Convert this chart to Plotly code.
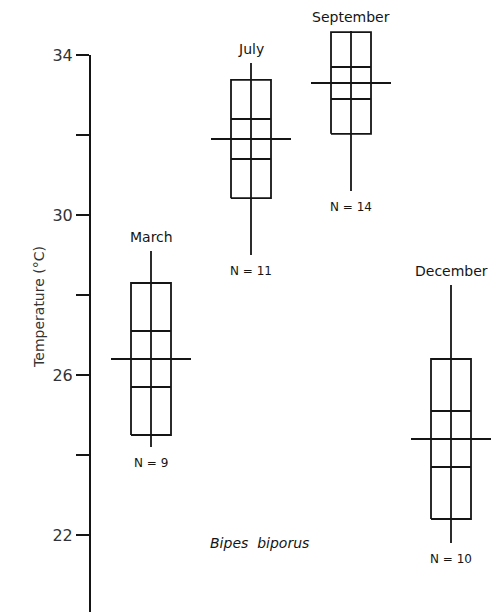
import plotly.graph_objects as go

# Monthly body temperature summaries for Bipes biporus
months = ["March", "July", "September", "December"]
sample_sizes = [9, 11, 14, 10]
means = [26.4, 31.9, 33.3, 24.4]
sd_half = [1.9, 1.48, 1.27, 2.0]      # outer box: mean +/- SD
se_half = [0.7, 0.5, 0.4, 0.7]       # inner band: mean +/- SE
t_min = [24.2, 29.0, 30.6, 21.8]
t_max = [29.1, 33.8, 34.6, 28.25]

y_ticks = [22, 24, 26, 28, 30, 32, 34]
y_ticklabels = ["22", "", "26", "", "30", "", "34"]

INK = "#151515"
FONT = "DejaVu Sans"
BOX_HW = 0.2
MEAN_HW = 0.4
LW = 1.8

fig = go.Figure()

for i, m in enumerate(months):
    xc = i + 1
    lo, hi = means[i] - sd_half[i], means[i] + sd_half[i]
    slo, shi = means[i] - se_half[i], means[i] + se_half[i]
    xs, ys = [], []
    # outer rectangle
    xs += [xc - BOX_HW, xc + BOX_HW, xc + BOX_HW, xc - BOX_HW, xc - BOX_HW, None]
    ys += [lo, lo, hi, hi, lo, None]
    # inner SE lines
    xs += [xc - BOX_HW, xc + BOX_HW, None, xc - BOX_HW, xc + BOX_HW, None]
    ys += [slo, slo, None, shi, shi, None]
    # range line
    xs += [xc, xc, None]
    ys += [t_min[i], t_max[i], None]
    # mean line
    xs += [xc - MEAN_HW, xc + MEAN_HW]
    ys += [means[i], means[i]]
    fig.add_trace(go.Scatter(x=xs, y=ys, mode="lines",
                             line=dict(color=INK, width=LW),
                             hoverinfo="skip", showlegend=False))

    fig.add_annotation(x=xc, y=t_max[i], text=m, showarrow=False,
                       yanchor="bottom", yshift=4,
                       font=dict(family=FONT, size=14, color=INK))
    fig.add_annotation(x=xc, y=t_min[i], text=f"N = {sample_sizes[i]}",
                       showarrow=False, yanchor="top", yshift=-7,
                       font=dict(family=FONT, size=12, color=INK))

fig.add_annotation(x=1.57, y=21.8, text="<i>Bipes  biporus</i>", showarrow=False,
                   xanchor="left", font=dict(family=FONT, size=14, color=INK))

fig.add_annotation(xref="paper", yref="y", x=-0.148, y=27.7,
                   text="Temperature (°C)", textangle=-90, showarrow=False,
                   font=dict(family=FONT, size=14, color="#333"))

# axis spine begins at the top tick
fig.add_shape(type="line", xref="paper", yref="y", x0=0, x1=0,
              y0=y_ticks[-1], y1=20.0, line=dict(color=INK, width=2))

fig.update_xaxes(range=[0.39, 4.52], visible=False)
fig.update_yaxes(range=[20.075, 35.375], tickvals=y_ticks, ticktext=y_ticklabels,
                 ticks="outside", ticklen=13, tickwidth=2, tickcolor=INK,
                 showline=False, showgrid=False, zeroline=False,
                 tickfont=dict(family=FONT, size=16, color="#333"))

fig.update_layout(width=503, height=612, margin=dict(l=90, r=0, t=0, b=0),
                  plot_bgcolor="white", paper_bgcolor="white")

fig.write_html("out.html")
